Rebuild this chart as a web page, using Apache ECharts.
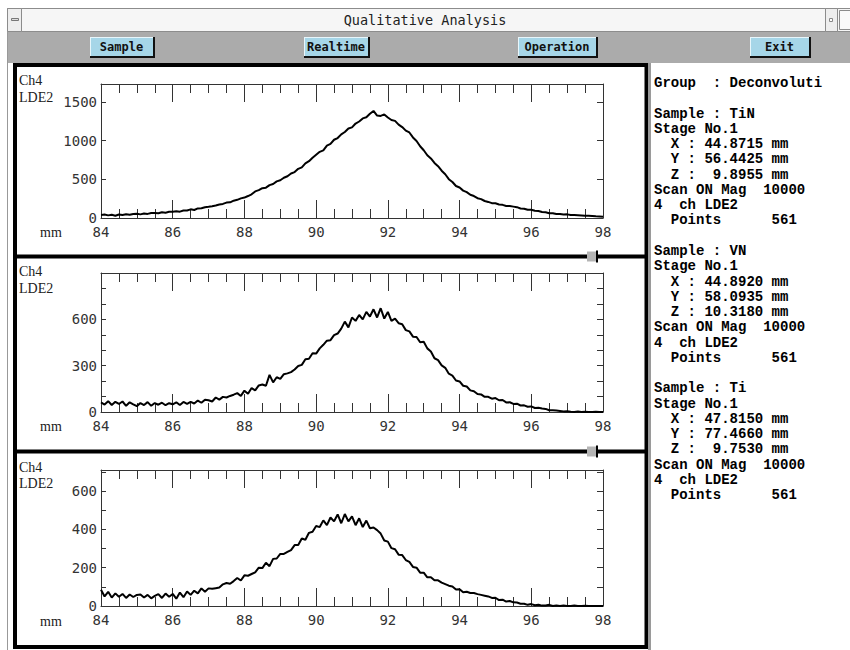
<!DOCTYPE html>
<html><head><meta charset="utf-8">
<script src="https://cdn.jsdelivr.net/npm/echarts@6/dist/echarts.min.js"></script>
<style>html,body{margin:0;padding:0;background:#fff}#c{width:850px;height:650px}</style>
</head><body><div id="c"></div>
<script>
// Sampling grid: positions in mm, every 0.1 mm from 84 to 98
const xStartMm = 84;
const xStepMm = 0.1;

// Counts, Ch4 LDE2, sample TiN
const tinCounts = [
 40,44,34,43,30,46,38,48,42,51,
 55,47,58,53,64,65,62,74,69,80,
 80,88,82,97,98,112,104,124,126,138,
 145,153,162,175,182,199,203,224,235,254,
 264,284,306,344,360,386,392,425,440,474,
 488,520,540,576,594,636,655,706,735,780,
 818,856,874,936,958,1012,1034,1082,1112,1158,
 1172,1222,1248,1288,1302,1348,1385,1325,1320,1340,
 1300,1268,1256,1208,1176,1130,1106,1042,996,928,
 876,812,770,712,670,612,566,502,466,414,
 394,354,334,300,284,256,244,220,208,192,
 190,175,170,155,154,147,140,123,120,107,
 107,93,90,77,74,62,62,52,52,45,
 47,38,38,36,32,28,28,26,22,20,
 17];

// Counts, sample VN
const vnCounts = [
 62,48,70,45,66,52,68,40,63,50,
 38,58,45,64,40,58,47,60,44,57,
 50,63,45,65,52,66,55,74,60,80,
 76,68,94,80,98,94,104,112,122,104,
 138,118,155,140,172,178,170,240,192,225,
 215,245,250,258,275,298,305,342,345,380,
 378,412,435,462,465,498,508,540,585,548,
 612,590,628,600,648,618,665,612,672,605,
 648,590,605,575,568,530,522,488,486,452,
 455,412,392,348,336,302,286,248,236,204,
 198,170,165,140,134,116,114,98,98,86,
 90,76,78,62,63,52,54,42,43,34,
 36,26,27,22,20,11,12,10,7,4,
 5,1,0,3,0,2,0,0,2,0,
 0];

// Counts, sample Ti
const tiCounts = [
 85,50,74,44,66,48,63,42,60,47,
 58,60,44,58,40,53,62,42,65,48,
 63,38,70,46,76,58,80,66,92,74,
 92,90,93,96,113,120,116,130,146,133,
 160,158,167,176,200,198,226,208,246,248,
 272,272,282,292,318,318,352,346,382,388,
 418,412,447,422,462,442,478,432,480,442,
 468,422,458,412,446,406,410,396,378,342,
 336,302,296,268,266,240,230,204,200,174,
 174,150,150,134,134,122,114,106,102,86,
 88,72,74,68,68,62,58,54,50,42,
 43,31,33,23,26,19,18,12,12,6,
 10,4,7,2,3,6,0,3,0,2,
 0,0,2,0,0,1,0,0,0,0,
 0];

const xTickLabels = [84, 86, 88, 90, 92, 94, 96, 98];
const yTickLabels = [[0, 500, 1000, 1500], [0, 300, 600], [0, 200, 400, 600]];
const panelMax = [1733, 900, 710];
const panelTickStep = [500, 100, 100];
const channelLines = ['Ch4', 'LDE2'];
const xUnit = 'mm';
const buttonLabels = ['Sample', 'Realtime', 'Operation', 'Exit'];
const windowTitle = 'Qualitative Analysis';
const infoLines = [
 'Group  : Deconvoluti', '',
 'Sample : TiN', 'Stage No.1', '  X : 44.8715 mm', '  Y : 56.4425 mm', '  Z :  9.8955 mm', 'Scan ON Mag  10000', '4  ch LDE2', '  Points      561', '',
 'Sample : VN', 'Stage No.1', '  X : 44.8920 mm', '  Y : 58.0935 mm', '  Z : 10.3180 mm', 'Scan ON Mag  10000', '4  ch LDE2', '  Points      561', '',
 'Sample : Ti', 'Stage No.1', '  X : 47.8150 mm', '  Y : 77.4660 mm', '  Z :  9.7530 mm', 'Scan ON Mag  10000', '4  ch LDE2', '  Points      561'
];

const seriesValues = [tinCounts, vnCounts, tiCounts];

// ---------- layout ----------
const grids = [
  {left: 101, top: 84, width: 502, height: 134},
  {left: 101, top: 273, width: 502, height: 139},
  {left: 101, top: 470, width: 502, height: 136}
];
const axisColor = '#333';
const tickFont = 'DejaVu Sans Mono';

const xAxes = [], yAxes = [], series = [];
grids.forEach((g, i) => {
  const xBase = {
    type: 'value', gridIndex: i, min: 84, max: 98, interval: 2,
    axisLine: {show: true, onZero: false, lineStyle: {color: axisColor, width: 1}},
    axisTick: {show: true, inside: true, length: 18, lineStyle: {color: axisColor, width: 1}},
    minorTick: {show: true, splitNumber: 4, length: 9, lineStyle: {color: axisColor, width: 1}},
    splitLine: {show: false}, minorSplitLine: {show: false}
  };
  xAxes.push(Object.assign({}, xBase, {
    position: 'bottom',
    axisLabel: {show: true, margin: 7, fontFamily: tickFont, fontSize: 14, color: '#333',
      formatter: v => xTickLabels.indexOf(v) >= 0 ? String(v) : ''}
  }));
  xAxes.push(Object.assign({}, xBase, {position: 'top', axisLabel: {show: false}}));
  const labels = yTickLabels[i];
  const yBase = {
    type: 'value', gridIndex: i, min: 0, max: panelMax[i], interval: panelTickStep[i],
    axisLine: {show: true, onZero: false, lineStyle: {color: axisColor, width: 1}},
    splitLine: {show: false}
  };
  yAxes.push(Object.assign({}, yBase, {
    position: 'left',
    axisTick: {show: true, inside: true, length: 5, lineStyle: {color: axisColor}},
    axisLabel: {show: true, margin: 4, fontFamily: tickFont, fontSize: 14, color: '#333',
      showMaxLabel: false,
      formatter: v => labels.indexOf(v) >= 0 ? String(v) : ''}
  }));
  yAxes.push(Object.assign({}, yBase, {
    position: 'right',
    axisTick: {show: true, inside: true, length: 6, lineStyle: {color: axisColor}},
    axisLabel: {show: false}
  }));
  series.push({
    type: 'line', xAxisIndex: i * 2, yAxisIndex: i * 2,
    showSymbol: false, symbol: 'none', animation: false,
    lineStyle: {color: '#000', width: 2},
    data: seriesValues[i].map((v, k) => [+(xStartMm + k * xStepMm).toFixed(2), v])
  });
});

// ---------- window decoration ----------
const graphic = [];
graphic.push({type: 'rect', z: -100, shape: {x: 0, y: 0, width: 850, height: 650}, style: {fill: '#fff'}});
graphic.push({type: 'line', shape: {x1: 7.5, y1: 8, x2: 7.5, y2: 650}, style: {stroke: '#999', lineWidth: 1}});
// title bar
graphic.push({type: 'rect', shape: {x: 7.5, y: 8.5, width: 843, height: 23}, style: {fill: '#f6f6f6', stroke: '#8c8c8c', lineWidth: 1}});
graphic.push({type: 'rect', shape: {x: 7.5, y: 8.5, width: 14, height: 23}, style: {fill: '#eeeeee', stroke: '#8c8c8c', lineWidth: 1}});
graphic.push({type: 'rect', shape: {x: 11.5, y: 18.5, width: 7, height: 2}, style: {fill: '#ddd', stroke: '#777', lineWidth: 1}});
graphic.push({type: 'rect', shape: {x: 825.5, y: 8.5, width: 12, height: 23}, style: {fill: '#eeeeee', stroke: '#8c8c8c', lineWidth: 1}});
graphic.push({type: 'rect', shape: {x: 829.5, y: 18.5, width: 3, height: 3}, style: {fill: '#fff', stroke: '#888', lineWidth: 1}});
graphic.push({type: 'rect', shape: {x: 839.5, y: 10.5, width: 11, height: 19}, style: {fill: '#fafafa', stroke: '#8c8c8c', lineWidth: 1}});
graphic.push({type: 'text', style: {text: windowTitle, x: 425, y: 20, align: 'center', verticalAlign: 'middle',
  font: "13.5px 'DejaVu Sans Mono', monospace", fill: '#222'}});
// button bar
graphic.push({type: 'rect', shape: {x: 8, y: 32, width: 842, height: 31}, style: {fill: '#ababab'}});
const buttonBoxes = [[90, 155], [304, 370], [518, 598], [750, 811]];
buttonLabels.forEach((t, i) => {
  const [x0, x1] = buttonBoxes[i];
  graphic.push({type: 'rect', shape: {x: x0, y: 37, width: x1 - x0, height: 21}, style: {fill: '#111'}});
  graphic.push({type: 'rect', shape: {x: x0, y: 37, width: x1 - x0 - 2, height: 19}, style: {fill: '#e8f6fb'}});
  graphic.push({type: 'rect', shape: {x: x0 + 1, y: 38, width: x1 - x0 - 3, height: 18}, style: {fill: '#a6d6e8'}});
  graphic.push({type: 'text', style: {text: t, x: (x0 + x1) / 2 - 1, y: 47, align: 'center', verticalAlign: 'middle',
    font: "bold 12px 'DejaVu Sans Mono', monospace", fill: '#111'}});
});
// main frame of plots
graphic.push({type: 'rect', shape: {x: 15, y: 65, width: 631.5, height: 582}, style: {fill: 'none', stroke: '#000', lineWidth: 4}});
[256.5, 451.5].forEach(y => {
  graphic.push({type: 'line', shape: {x1: 17, y1: y, x2: 645, y2: y}, style: {stroke: '#000', lineWidth: 4}});
  graphic.push({type: 'rect', shape: {x: 587, y: y - 5, width: 9, height: 10}, style: {fill: '#b4b4b4'}});
  graphic.push({type: 'line', shape: {x1: 597, y1: y - 6, x2: 597, y2: y + 6}, style: {stroke: '#000', lineWidth: 2}});
});
// channel / unit labels
const labelRows = [[80.5, 97.5, 232], [271, 288, 426], [467, 483, 621]];
labelRows.forEach(r => {
  graphic.push({type: 'text', style: {text: channelLines[0], x: 19, y: r[0], align: 'left', verticalAlign: 'middle',
    font: "14px 'Liberation Serif', serif", fill: '#222'}});
  graphic.push({type: 'text', style: {text: channelLines[1], x: 19, y: r[1], align: 'left', verticalAlign: 'middle',
    font: "14px 'Liberation Serif', serif", fill: '#222'}});
  graphic.push({type: 'text', style: {text: xUnit, x: 40, y: r[2], align: 'left', verticalAlign: 'middle',
    font: "14px 'Liberation Serif', serif", fill: '#222'}});
});
// right info panel
graphic.push({type: 'rect', shape: {x: 648, y: 63, width: 3, height: 587}, style: {fill: '#9a9a9a'}});
infoLines.forEach((t, i) => {
  if (!t) return;
  graphic.push({type: 'text', style: {text: t, x: 654, y: 83 + i * 15.27, align: 'left', verticalAlign: 'middle',
    font: "bold 14px 'Liberation Mono', monospace", fill: '#000'}});
});

const chart = echarts.init(document.getElementById('c'), null, {renderer: 'svg'});
chart.setOption({
  animation: false,
  backgroundColor: '#fff',
  grid: grids,
  xAxis: xAxes,
  yAxis: yAxes,
  series: series,
  graphic: graphic
});
</script>
</body></html>
